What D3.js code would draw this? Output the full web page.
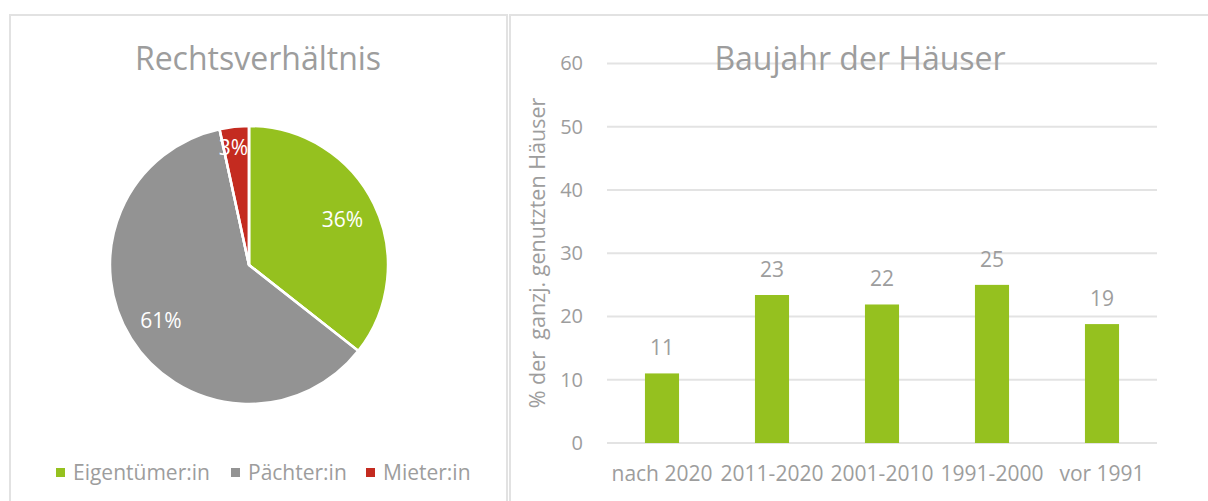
<!DOCTYPE html>
<html><head><meta charset="utf-8">
<script src="https://cdn.jsdelivr.net/npm/d3@7"></script>
<style>
html,body{margin:0;padding:0;background:#fff;}
svg text{font-family:"Open Sans","Noto Sans",sans-serif;}
</style></head>
<body>
<svg id="chart" width="1208" height="501"></svg>
<script>
// ---- data ----
const pieTitle = "Rechtsverhältnis";
const pieCategories = ["Eigentümer:in", "Pächter:in", "Mieter:in"];
const pieValues = [35.6, 61.0, 3.4];
const pieColors = ["#95c11f", "#939393", "#c42b20"];

const barTitle = "Baujahr der Häuser";
const barCategories = ["nach 2020", "2011-2020", "2001-2010", "1991-2000", "vor 1991"];
const barValues = [11.0, 23.4, 21.9, 25.0, 18.8];
const yTicks = [0, 10, 20, 30, 40, 50, 60];
const yAxisTitle = "% der  ganzj. genutzten Häuser";

const textGrey = "#9d9d9d";
const svg = d3.select("#chart");

// panel borders
svg.append("rect").attr("x", 10).attr("y", 15).attr("width", 497).attr("height", 500)
  .attr("fill", "none").attr("stroke", "#e2e2e2").attr("stroke-width", 2);
svg.append("rect").attr("x", 510).attr("y", 15).attr("width", 710).attr("height", 500)
  .attr("fill", "none").attr("stroke", "#e2e2e2").attr("stroke-width", 2);

// ---- pie ----
const cx = 249, cy = 265, R = 139;
svg.append("text").attr("x", 258).attr("y", 70).attr("text-anchor", "middle")
  .attr("font-size", 32).attr("fill", textGrey).text(pieTitle);

const pie = d3.pie().sort(null).value(d => d)(pieValues);
const arc = d3.arc().innerRadius(0).outerRadius(R);
const g = svg.append("g").attr("transform", `translate(${cx},${cy})`);
g.selectAll("path").data(pie).enter().append("path")
  .attr("d", arc).attr("fill", (d, i) => pieColors[i])
  .attr("stroke", "#fff").attr("stroke-width", 2.5).attr("stroke-linejoin", "round");
g.selectAll("text.lbl").data(pie).enter().append("text").attr("class", "lbl")
  .attr("transform", d => {
    const r = (d.endAngle - d.startAngle) < 0.5 ? 118 : 104;
    const a = (d.startAngle + d.endAngle) / 2;
    return `translate(${Math.sin(a) * r - (r === 118 ? 3 : 0)},${-Math.cos(a) * r})`;
  })
  .attr("text-anchor", "middle").attr("dy", "0.35em")
  .attr("font-size", 21).attr("fill", "#fff")
  .text(d => Math.round(d.data) + "%");
// white separators drawn over labels
g.selectAll("line.sep").data(pie).enter().append("line").attr("class", "sep")
  .attr("x1", 0).attr("y1", 0)
  .attr("x2", d => Math.sin(d.startAngle) * R).attr("y2", d => -Math.cos(d.startAngle) * R)
  .attr("stroke", "#fff").attr("stroke-width", 2.5);

// legend
const legendItems = [{x: 56}, {x: 231}, {x: 366}];
const lg = svg.append("g");
pieCategories.forEach((c, i) => {
  lg.append("rect").attr("x", legendItems[i].x).attr("y", 468).attr("width", 9).attr("height", 9)
    .attr("fill", pieColors[i]);
  lg.append("text").attr("x", legendItems[i].x + 17).attr("y", 480)
    .attr("font-size", 21).attr("fill", textGrey).text(c);
});

// ---- bar chart ----
const x = d3.scaleBand().domain(barCategories).range([607, 1157])
  .paddingInner(0.69).paddingOuter(0.345);
const y = d3.scaleLinear().domain([0, 60]).range([443, 63.5]);

const grid = svg.append("g");
grid.selectAll("line").data(yTicks).enter().append("line")
  .attr("x1", 607).attr("x2", 1157)
  .attr("y1", d => y(d)).attr("y2", d => y(d))
  .attr("stroke", "#e3e3e3").attr("stroke-width", 2);

const yAxis = d3.axisLeft(y).tickValues(yTicks).tickSize(0).tickPadding(0);
const ya = svg.append("g").attr("transform", "translate(583,0)").call(yAxis);
ya.select(".domain").remove();
ya.selectAll("text").attr("font-size", 20).attr("fill", textGrey)
  .attr("font-family", '"Open Sans","Noto Sans",sans-serif');

svg.append("text").attr("transform", "translate(545,253) rotate(-90)")
  .attr("text-anchor", "middle").attr("font-size", 21.5).attr("fill", textGrey)
  .style("white-space", "pre").attr("xml:space", "preserve").text(yAxisTitle);

svg.selectAll("rect.bar").data(barValues).enter().append("rect").attr("class", "bar")
  .attr("x", (d, i) => x(barCategories[i])).attr("width", x.bandwidth())
  .attr("y", d => y(d)).attr("height", d => y(0) - y(d)).attr("fill", "#95c11f");

svg.selectAll("text.val").data(barValues).enter().append("text").attr("class", "val")
  .attr("x", (d, i) => x(barCategories[i]) + x.bandwidth() / 2)
  .attr("y", d => y(d) - 18).attr("text-anchor", "middle")
  .attr("font-size", 21).attr("fill", textGrey).text(d => Math.round(d));

const xAxis = d3.axisBottom(x).tickSize(0).tickPadding(0);
const xa = svg.append("g").attr("transform", "translate(0,466)").call(xAxis);
xa.select(".domain").remove();
xa.selectAll("text").attr("font-size", 21).attr("fill", textGrey).attr("dy", "0.71em")
  .attr("font-family", '"Open Sans","Noto Sans",sans-serif');

// title (over gridline)
svg.append("text").attr("x", 860).attr("y", 70).attr("text-anchor", "middle")
  .attr("font-size", 32).attr("fill", textGrey).text(barTitle);
</script>
</body></html>
